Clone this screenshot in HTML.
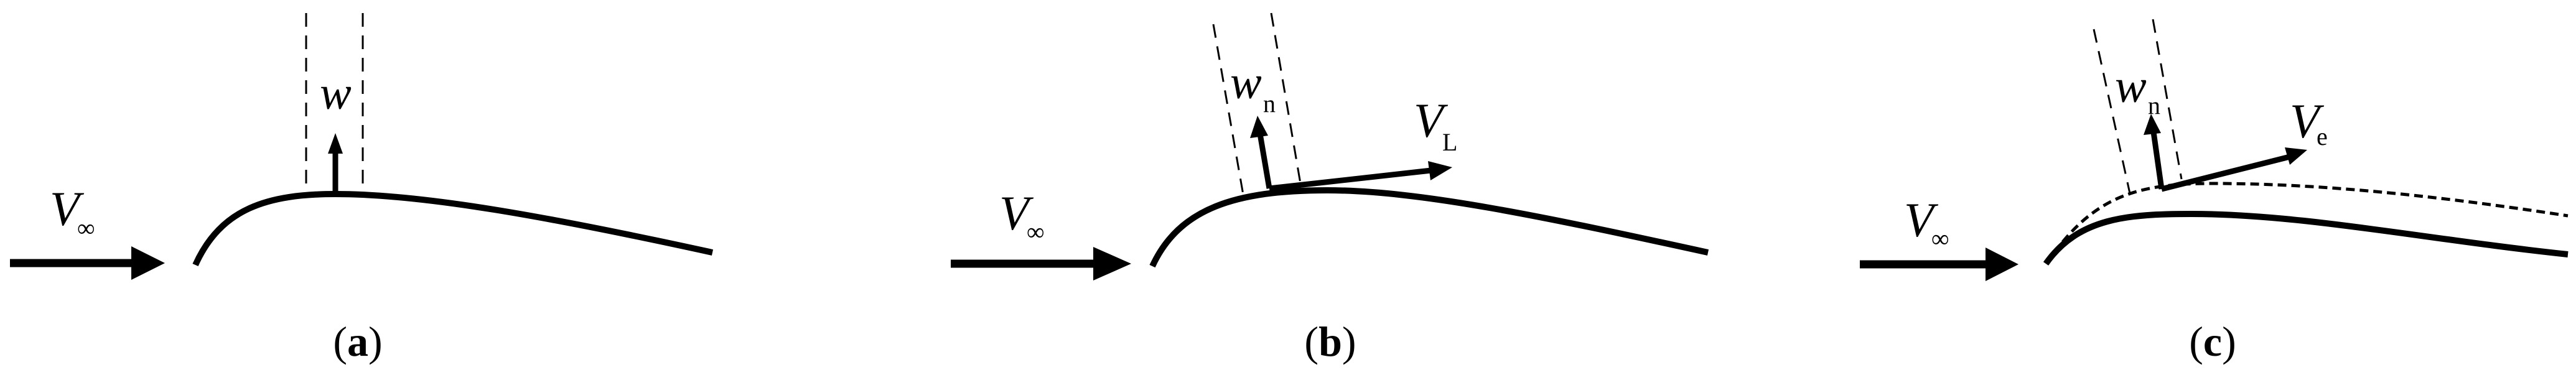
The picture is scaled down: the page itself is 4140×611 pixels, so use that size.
<!DOCTYPE html>
<html><head><meta charset="utf-8"><style>
html,body{margin:0;padding:0;background:#fff;}
svg{display:block;}
text{font-family:"Liberation Serif",serif;fill:#000;}
.it{font-style:italic;}
</style></head><body>
<svg width="4140" height="611" viewBox="0 0 4140 611" xmlns="http://www.w3.org/2000/svg">
<g fill="none" stroke="#000">
 <!-- panel a -->
 <line x1="16" y1="423" x2="215" y2="423" stroke-width="13"/>
 <path d="M314,426 C355,335 430,312 539,312 C680,312 880,348 1145,406" stroke-width="10"/>
 <line x1="492" y1="21" x2="492" y2="311" stroke-width="3" stroke-dasharray="22,14"/>
 <line x1="583" y1="21" x2="583" y2="311" stroke-width="3" stroke-dasharray="22,14"/>
 <line x1="539" y1="311" x2="539" y2="240" stroke-width="9"/>
 <!-- panel b -->
 <line x1="1528" y1="424" x2="1765" y2="424" stroke-width="13"/>
 <path d="M1852,428 C1895,335 1985,306 2133,306 C2280,306 2480,348 2745,406" stroke-width="10"/>
 <line x1="1950" y1="39" x2="1998" y2="313" stroke-width="3" stroke-dasharray="22,14"/>
 <line x1="2043" y1="21" x2="2090" y2="295" stroke-width="3" stroke-dasharray="22,14"/>
 <line x1="2040" y1="303" x2="2025" y2="215" stroke-width="9"/>
 <line x1="2040" y1="303" x2="2300" y2="274" stroke-width="9"/>
 <!-- panel c -->
 <line x1="2989" y1="425" x2="3200" y2="425" stroke-width="13"/>
 <path d="M3288,424 C3340,350 3420,344 3522,344 C3700,344 3900,385 4127,409" stroke-width="10"/>
 <path d="M3315,389 C3380,310 3450,295 3556,295 C3750,295 3950,320 4127,347" stroke-width="5" stroke-dasharray="14,8"/>
 <line x1="3365" y1="47" x2="3423" y2="311" stroke-width="3" stroke-dasharray="22,14"/>
 <line x1="3460" y1="31" x2="3506" y2="288" stroke-width="3" stroke-dasharray="22,14"/>
 <line x1="3474" y1="304" x2="3461" y2="212" stroke-width="9"/>
 <line x1="3474" y1="304" x2="3680" y2="252" stroke-width="9"/>
</g>
<g fill="#000" stroke="none">
 <polygon points="211,396 265,423 211,450"/>
 <polygon points="527,247 539,214 551,247"/>
 <polygon points="1757,397 1818,424 1757,451"/>
 <polygon points="2009,222 2021,186 2038,218"/>
 <polygon points="2295,259 2334,269 2299,290"/>
 <polygon points="3191,398 3244,425 3191,452"/>
 <polygon points="3445,217 3457,183 3473,214"/>
 <polygon points="3672,237 3708,241 3680,265"/>
</g>
<text x="80" y="362" font-size="78" class="it">V</text><text x="124" y="380" font-size="40">∞</text>
<text x="514" y="175" font-size="76" class="it">w</text>
<text x="575" y="572" font-size="68" text-anchor="middle">(<tspan font-weight="bold">a</tspan>)</text>

<text x="1606" y="369" font-size="78" class="it">V</text><text x="1650" y="386" font-size="40">∞</text>
<text x="1977" y="158" font-size="76" class="it">w</text><text x="2030" y="180" font-size="40">n</text>
<text x="2272" y="220" font-size="78" class="it">V</text><text x="2318" y="242" font-size="40">L</text>
<text x="2138" y="572" font-size="68" text-anchor="middle">(<tspan font-weight="bold">b</tspan>)</text>

<text x="3060" y="380" font-size="78" class="it">V</text><text x="3104" y="397" font-size="40">∞</text>
<text x="3399" y="164" font-size="76" class="it">w</text><text x="3452" y="183" font-size="40">n</text>
<text x="3680" y="221" font-size="78" class="it">V</text><text x="3723" y="233" font-size="40">e</text>
<text x="3556" y="572" font-size="68" text-anchor="middle">(<tspan font-weight="bold">c</tspan>)</text>
</svg>
</body></html>
